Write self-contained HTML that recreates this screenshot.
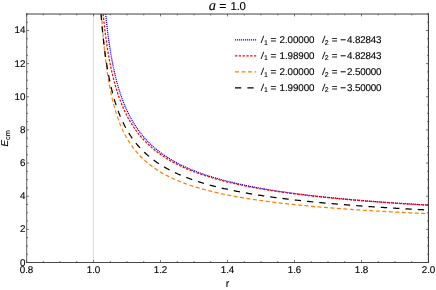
<!DOCTYPE html>
<html><head><meta charset="utf-8"><style>
html,body{margin:0;padding:0;background:#fff;}
svg{display:block;will-change:transform}
text{font-family:"Liberation Sans",sans-serif;font-size:9.8px;fill:#000;stroke:#000;stroke-width:0.12px;text-rendering:geometricPrecision}
</style></head><body>
<svg width="436" height="290" viewBox="0 0 436 290">
<rect width="436" height="290" fill="#fff"/>
<defs><clipPath id="c"><rect x="26.52" y="13.90" width="401.98" height="248.60"/></clipPath></defs>
<line x1="93.52" y1="13.90" x2="93.52" y2="262.50" stroke="#d4d4d4" stroke-width="0.8"/>
<g clip-path="url(#c)">
<path d="M105.64 13.90 L105.71 14.62 L105.79 15.33 L105.86 16.03 L105.93 16.73 L106.00 17.42 L106.07 18.11 L106.14 18.79 L106.21 19.46 L106.29 20.13 L106.36 20.79 L106.43 21.45 L106.50 22.10 L106.57 22.75 L106.64 23.39 L106.71 24.02 L106.79 24.66 L106.86 25.28 L106.93 25.90 L107.00 26.52 L107.07 27.13 L107.14 27.73 L107.22 28.33 L107.29 28.93 L107.36 29.52 L107.43 30.11 L107.50 30.69 L107.57 31.27 L107.64 31.84 L107.72 32.41 L107.79 32.98 L107.86 33.54 L107.93 34.10 L108.00 34.65 L108.07 35.20 L108.14 35.74 L108.22 36.28 L108.29 36.82 L108.36 37.35 L108.43 37.88 L108.50 38.40 L108.57 38.92 L108.64 39.44 L108.72 39.95 L108.79 40.46 L108.86 40.97 L108.93 41.47 L109.00 41.97 L109.07 42.47 L109.15 42.96 L109.22 43.45 L109.29 43.93 L109.36 44.42 L109.43 44.90 L109.50 45.37 L109.57 45.84 L109.65 46.31 L109.72 46.78 L109.79 47.24 L109.86 47.70 L109.93 48.16 L110.00 48.61 L110.07 49.06 L110.15 49.51 L110.22 49.96 L110.29 50.40 L110.36 50.84 L110.43 51.28 L110.50 51.71 L110.57 52.14 L110.65 52.57 L110.72 53.00 L110.79 53.42 L110.86 53.84 L110.93 54.26 L111.00 54.67 L111.08 55.08 L111.15 55.49 L111.22 55.90 L111.29 56.31 L111.36 56.71 L111.43 57.11 L111.50 57.51 L111.58 57.90 L111.65 58.30 L111.72 58.69 L111.79 59.08 L111.86 59.46 L111.93 59.85 L112.00 60.23 L112.08 60.61 L112.15 60.98 L112.22 61.36 L112.29 61.73 L112.36 62.10 L112.43 62.47 L112.50 62.84 L112.58 63.20 L112.65 63.57 L112.72 63.93 L112.79 64.28 L112.86 64.64 L112.93 64.99 L113.01 65.35 L113.08 65.70 L113.15 66.05 L113.22 66.39 L113.29 66.74 L113.36 67.08 L113.43 67.42 L113.51 67.76 L113.58 68.10 L113.65 68.43 L113.72 68.77 L113.79 69.10 L113.86 69.43 L113.93 69.76 L114.01 70.08 L114.08 70.41 L114.15 70.73 L114.22 71.05 L114.29 71.37 L114.36 71.69 L114.43 72.01 L114.51 72.32 L114.58 72.63 L114.65 72.95 L114.72 73.26 L114.79 73.56 L114.86 73.87 L114.94 74.18 L115.01 74.48 L115.08 74.78 L115.15 75.08 L115.22 75.38 L115.29 75.68 L115.36 75.98 L115.44 76.27 L115.51 76.56 L115.58 76.86 L115.65 77.15 L115.72 77.43 L115.79 77.72 L115.86 78.01 L115.94 78.29 L116.01 78.58 L116.08 78.86 L116.15 79.14 L116.22 79.42 L116.29 79.70 L116.36 79.97 L116.44 80.25 L116.51 80.52 L116.58 80.80 L116.65 81.07 L116.72 81.34 L116.79 81.61 L116.86 81.88 L116.94 82.14 L117.01 82.41 L117.08 82.67 L117.15 82.93 L117.22 83.20 L117.29 83.46 L117.37 83.72 L117.44 83.97 L117.51 84.23 L117.58 84.49 L117.65 84.74 L117.72 84.99 L117.79 85.25 L117.87 85.50 L117.94 85.75 L118.01 86.00 L118.08 86.25 L118.15 86.49 L118.22 86.74 L118.29 86.98 L118.37 87.23 L118.44 87.47 L118.51 87.71 L118.58 87.95 L118.65 88.19 L118.72 88.43 L118.79 88.67 L118.87 88.90 L118.94 89.14 L119.01 89.37 L119.08 89.61 L119.15 89.84 L119.22 90.07 L119.30 90.30 L119.37 90.53 L119.44 90.76 L119.51 90.98 L119.58 91.21 L119.65 91.44 L119.72 91.66 L119.80 91.89 L119.87 92.11 L119.94 92.33 L120.01 92.55 L120.08 92.77 L120.15 92.99 L120.22 93.21 L120.30 93.43 L120.37 93.64 L120.44 93.86 L120.51 94.07 L120.58 94.29 L120.65 94.50 L120.72 94.71 L120.80 94.92 L120.87 95.13 L120.94 95.34 L121.01 95.55 L121.08 95.76 L121.15 95.97 L121.23 96.17 L121.30 96.38 L121.37 96.58 L121.44 96.79 L121.51 96.99 L121.58 97.19 L121.65 97.40 L121.73 97.60 L121.80 97.80 L121.87 98.00 L121.94 98.19 L122.01 98.39 L122.08 98.59 L122.15 98.79 L122.23 98.98 L122.30 99.18 L122.37 99.37 L122.44 99.56 L122.51 99.76 L122.58 99.95 L122.65 100.14 L122.73 100.33 L122.80 100.52 L122.87 100.71 L122.94 100.90 L123.01 101.08 L123.08 101.27 L123.16 101.46 L123.23 101.64 L123.30 101.83 L123.37 102.01 L123.44 102.20 L123.51 102.38 L123.58 102.56 L123.66 102.74 L123.73 102.92 L123.80 103.10 L123.87 103.28 L123.94 103.46 L124.01 103.64 L124.08 103.82 L124.16 104.00 L124.23 104.17 L124.30 104.35 L124.37 104.52 L124.44 104.70 L124.51 104.87 L124.58 105.05 L124.66 105.22 L124.73 105.39 L124.80 105.56 L124.87 105.73 L124.94 105.90 L125.01 106.07 L125.09 106.24 L125.16 106.41 L125.23 106.58 L125.30 106.75 L125.37 106.91 L125.44 107.08 L125.51 107.25 L125.59 107.41 L125.66 107.58 L125.73 107.74 L125.80 107.90 L125.87 108.07 L125.94 108.23 L126.01 108.39 L126.09 108.55 L126.16 108.71 L126.23 108.87 L126.30 109.03 L126.37 109.19 L126.44 109.35 L126.51 109.51 L126.59 109.67 L126.66 109.82 L126.73 109.98 L126.80 110.14 L126.87 110.29 L126.94 110.45 L127.02 110.60 L128.02 112.73 L129.03 114.77 L130.04 116.72 L131.05 118.59 L132.06 120.38 L133.06 122.10 L134.07 123.76 L135.08 125.36 L136.09 126.89 L137.10 128.38 L138.11 129.81 L139.11 131.19 L140.12 132.53 L141.13 133.82 L142.14 135.07 L143.15 136.29 L144.16 137.46 L145.16 138.60 L146.17 139.71 L147.18 140.78 L148.19 141.83 L149.20 142.84 L150.21 143.83 L151.21 144.79 L152.22 145.72 L153.23 146.63 L154.24 147.52 L155.25 148.38 L156.26 149.22 L157.26 150.05 L158.27 150.85 L159.28 151.63 L160.29 152.40 L161.30 153.14 L162.31 153.87 L163.31 154.59 L164.32 155.29 L165.33 155.97 L166.34 156.64 L167.35 157.29 L168.36 157.93 L169.36 158.56 L170.37 159.17 L171.38 159.78 L172.39 160.37 L173.40 160.94 L174.41 161.51 L175.41 162.07 L176.42 162.61 L177.43 163.15 L178.44 163.67 L179.45 164.19 L180.46 164.70 L181.46 165.19 L182.47 165.68 L183.48 166.16 L184.49 166.63 L185.50 167.10 L186.51 167.55 L187.51 168.00 L188.52 168.44 L189.53 168.88 L190.54 169.30 L191.55 169.72 L192.56 170.14 L193.56 170.54 L194.57 170.94 L195.58 171.34 L196.59 171.72 L197.60 172.11 L198.61 172.48 L199.61 172.85 L200.62 173.22 L201.63 173.58 L202.64 173.93 L203.65 174.28 L204.65 174.63 L205.66 174.97 L206.67 175.30 L207.68 175.63 L208.69 175.96 L209.70 176.28 L210.70 176.59 L211.71 176.91 L212.72 177.21 L213.73 177.52 L214.74 177.82 L215.75 178.11 L216.75 178.41 L217.76 178.70 L218.77 178.98 L219.78 179.26 L220.79 179.54 L221.80 179.81 L222.80 180.09 L223.81 180.35 L224.82 180.62 L225.83 180.88 L226.84 181.14 L227.85 181.39 L228.85 181.64 L229.86 181.89 L230.87 182.14 L231.88 182.38 L232.89 182.62 L233.90 182.86 L234.90 183.10 L235.91 183.33 L236.92 183.56 L237.93 183.79 L238.94 184.01 L239.95 184.23 L240.95 184.45 L241.96 184.67 L242.97 184.89 L243.98 185.10 L244.99 185.31 L246.00 185.52 L247.00 185.72 L248.01 185.93 L249.02 186.13 L250.03 186.33 L251.04 186.53 L252.05 186.72 L253.05 186.92 L254.06 187.11 L255.07 187.30 L256.08 187.49 L257.09 187.67 L258.10 187.86 L259.10 188.04 L260.11 188.22 L261.12 188.40 L262.13 188.58 L263.14 188.75 L264.15 188.93 L265.15 189.10 L266.16 189.27 L267.17 189.44 L268.18 189.61 L269.19 189.78 L270.20 189.94 L271.20 190.10 L272.21 190.26 L273.22 190.42 L274.23 190.58 L275.24 190.74 L276.25 190.90 L277.25 191.05 L278.26 191.20 L279.27 191.36 L280.28 191.51 L281.29 191.66 L282.29 191.80 L283.30 191.95 L284.31 192.10 L285.32 192.24 L286.33 192.38 L287.34 192.52 L288.34 192.67 L289.35 192.80 L290.36 192.94 L291.37 193.08 L292.38 193.22 L293.39 193.35 L294.39 193.48 L295.40 193.62 L296.41 193.75 L297.42 193.88 L298.43 194.01 L299.44 194.14 L300.44 194.27 L301.45 194.39 L302.46 194.52 L303.47 194.64 L304.48 194.77 L305.49 194.89 L306.49 195.01 L307.50 195.13 L308.51 195.25 L309.52 195.37 L310.53 195.49 L311.54 195.60 L312.54 195.72 L313.55 195.84 L314.56 195.95 L315.57 196.06 L316.58 196.18 L317.59 196.29 L318.59 196.40 L319.60 196.51 L320.61 196.62 L321.62 196.73 L322.63 196.84 L323.64 196.95 L324.64 197.05 L325.65 197.16 L326.66 197.26 L327.67 197.37 L328.68 197.47 L329.69 197.57 L330.69 197.68 L331.70 197.78 L332.71 197.88 L333.72 197.98 L334.73 198.08 L335.74 198.18 L336.74 198.27 L337.75 198.37 L338.76 198.47 L339.77 198.56 L340.78 198.66 L341.79 198.75 L342.79 198.85 L343.80 198.94 L344.81 199.03 L345.82 199.13 L346.83 199.22 L347.84 199.31 L348.84 199.40 L349.85 199.49 L350.86 199.58 L351.87 199.67 L352.88 199.76 L353.88 199.84 L354.89 199.93 L355.90 200.02 L356.91 200.10 L357.92 200.19 L358.93 200.27 L359.93 200.36 L360.94 200.44 L361.95 200.53 L362.96 200.61 L363.97 200.69 L364.98 200.77 L365.98 200.85 L366.99 200.93 L368.00 201.01 L369.01 201.09 L370.02 201.17 L371.03 201.25 L372.03 201.33 L373.04 201.41 L374.05 201.49 L375.06 201.56 L376.07 201.64 L377.08 201.72 L378.08 201.79 L379.09 201.87 L380.10 201.94 L381.11 202.02 L382.12 202.09 L383.13 202.16 L384.13 202.24 L385.14 202.31 L386.15 202.38 L387.16 202.45 L388.17 202.53 L389.18 202.60 L390.18 202.67 L391.19 202.74 L392.20 202.81 L393.21 202.88 L394.22 202.95 L395.23 203.02 L396.23 203.08 L397.24 203.15 L398.25 203.22 L399.26 203.29 L400.27 203.35 L401.28 203.42 L402.28 203.49 L403.29 203.55 L404.30 203.62 L405.31 203.68 L406.32 203.75 L407.33 203.81 L408.33 203.88 L409.34 203.94 L410.35 204.00 L411.36 204.07 L412.37 204.13 L413.38 204.19 L414.38 204.25 L415.39 204.31 L416.40 204.38 L417.41 204.44 L418.42 204.50 L419.43 204.56 L420.43 204.62 L421.44 204.68 L422.45 204.74 L423.46 204.80 L424.47 204.86 L425.48 204.91 L426.48 204.97 L427.49 205.03 L428.50 205.09" fill="none" stroke="#0000ff" stroke-width="1.25" stroke-dasharray="1.15 0.85"/>
<path d="M103.14 13.90 L103.22 14.71 L103.30 15.50 L103.38 16.30 L103.46 17.08 L103.54 17.85 L103.62 18.62 L103.70 19.38 L103.78 20.13 L103.86 20.88 L103.94 21.62 L104.02 22.35 L104.10 23.07 L104.18 23.79 L104.26 24.50 L104.34 25.21 L104.42 25.91 L104.50 26.60 L104.58 27.28 L104.66 27.96 L104.74 28.64 L104.82 29.30 L104.90 29.97 L104.97 30.62 L105.05 31.27 L105.13 31.92 L105.21 32.56 L105.29 33.19 L105.37 33.82 L105.45 34.44 L105.53 35.06 L105.61 35.67 L105.69 36.28 L105.77 36.88 L105.85 37.48 L105.93 38.07 L106.01 38.66 L106.09 39.24 L106.17 39.82 L106.25 40.39 L106.33 40.96 L106.41 41.52 L106.49 42.08 L106.57 42.64 L106.65 43.19 L106.73 43.74 L106.81 44.28 L106.89 44.82 L106.97 45.35 L107.05 45.88 L107.13 46.41 L107.21 46.93 L107.29 47.45 L107.37 47.97 L107.45 48.48 L107.53 48.98 L107.61 49.49 L107.69 49.99 L107.77 50.48 L107.85 50.97 L107.93 51.46 L108.01 51.95 L108.09 52.43 L108.17 52.91 L108.25 53.38 L108.33 53.86 L108.41 54.32 L108.49 54.79 L108.57 55.25 L108.65 55.71 L108.73 56.17 L108.81 56.62 L108.89 57.07 L108.97 57.51 L109.05 57.96 L109.13 58.40 L109.21 58.83 L109.29 59.27 L109.37 59.70 L109.45 60.13 L109.53 60.56 L109.61 60.98 L109.69 61.40 L109.77 61.82 L109.85 62.23 L109.93 62.64 L110.01 63.05 L110.09 63.46 L110.17 63.86 L110.25 64.27 L110.33 64.67 L110.41 65.06 L110.48 65.46 L110.56 65.85 L110.64 66.24 L110.72 66.63 L110.80 67.01 L110.88 67.39 L110.96 67.77 L111.04 68.15 L111.12 68.53 L111.20 68.90 L111.28 69.27 L111.36 69.64 L111.44 70.00 L111.52 70.37 L111.60 70.73 L111.68 71.09 L111.76 71.45 L111.84 71.81 L111.92 72.16 L112.00 72.51 L112.08 72.86 L112.16 73.21 L112.24 73.55 L112.32 73.90 L112.40 74.24 L112.48 74.58 L112.56 74.92 L112.64 75.25 L112.72 75.59 L112.80 75.92 L112.88 76.25 L112.96 76.58 L113.04 76.90 L113.12 77.23 L113.20 77.55 L113.28 77.87 L113.36 78.19 L113.44 78.51 L113.52 78.83 L113.60 79.14 L113.68 79.46 L113.76 79.77 L113.84 80.08 L113.92 80.38 L114.00 80.69 L114.08 80.99 L114.16 81.30 L114.24 81.60 L114.32 81.90 L114.40 82.20 L114.48 82.49 L114.56 82.79 L114.64 83.08 L114.72 83.38 L114.80 83.67 L114.88 83.96 L114.96 84.24 L115.04 84.53 L115.12 84.81 L115.20 85.10 L115.28 85.38 L115.36 85.66 L115.44 85.94 L115.52 86.22 L115.60 86.49 L115.68 86.77 L115.76 87.04 L115.84 87.31 L115.92 87.59 L115.99 87.86 L116.07 88.12 L116.15 88.39 L116.23 88.66 L116.31 88.92 L116.39 89.18 L116.47 89.45 L116.55 89.71 L116.63 89.97 L116.71 90.22 L116.79 90.48 L116.87 90.74 L116.95 90.99 L117.03 91.25 L117.11 91.50 L117.19 91.75 L117.27 92.00 L117.35 92.25 L117.43 92.50 L117.51 92.74 L117.59 92.99 L117.67 93.23 L117.75 93.48 L117.83 93.72 L117.91 93.96 L117.99 94.20 L118.07 94.44 L118.15 94.67 L118.23 94.91 L118.31 95.15 L118.39 95.38 L118.47 95.61 L118.55 95.85 L118.63 96.08 L118.71 96.31 L118.79 96.54 L118.87 96.77 L118.95 96.99 L119.03 97.22 L119.11 97.45 L119.19 97.67 L119.27 97.89 L119.35 98.12 L119.43 98.34 L119.51 98.56 L119.59 98.78 L119.67 99.00 L119.75 99.22 L119.83 99.43 L119.91 99.65 L119.99 99.86 L120.07 100.08 L120.15 100.29 L120.23 100.50 L120.31 100.72 L120.39 100.93 L120.47 101.14 L120.55 101.35 L120.63 101.55 L120.71 101.76 L120.79 101.97 L120.87 102.17 L120.95 102.38 L121.03 102.58 L121.11 102.78 L121.19 102.99 L121.27 103.19 L121.35 103.39 L121.43 103.59 L121.50 103.79 L121.58 103.99 L121.66 104.18 L121.74 104.38 L121.82 104.58 L121.90 104.77 L121.98 104.97 L122.06 105.16 L122.14 105.35 L122.22 105.54 L122.30 105.73 L122.38 105.93 L122.46 106.12 L122.54 106.30 L122.62 106.49 L122.70 106.68 L122.78 106.87 L122.86 107.05 L122.94 107.24 L123.02 107.42 L123.10 107.61 L123.18 107.79 L123.26 107.97 L123.34 108.16 L123.42 108.34 L123.50 108.52 L123.58 108.70 L123.66 108.88 L123.74 109.06 L123.82 109.23 L123.90 109.41 L123.98 109.59 L124.06 109.76 L124.14 109.94 L124.22 110.11 L124.30 110.29 L124.38 110.46 L124.46 110.63 L124.54 110.81 L124.62 110.98 L124.70 111.15 L124.78 111.32 L124.86 111.49 L124.94 111.66 L125.02 111.83 L125.10 112.00 L125.18 112.16 L125.26 112.33 L125.34 112.50 L125.42 112.66 L125.50 112.83 L125.58 112.99 L125.66 113.15 L125.74 113.32 L125.82 113.48 L125.90 113.64 L125.98 113.80 L126.06 113.96 L126.14 114.12 L126.22 114.28 L126.30 114.44 L126.38 114.60 L126.46 114.76 L126.54 114.92 L126.62 115.08 L126.70 115.23 L126.78 115.39 L126.86 115.54 L126.94 115.70 L127.02 115.85 L128.02 117.76 L129.03 119.59 L130.04 121.34 L131.05 123.03 L132.06 124.66 L133.06 126.22 L134.07 127.73 L135.08 129.18 L136.09 130.59 L137.10 131.95 L138.11 133.26 L139.11 134.53 L140.12 135.76 L141.13 136.95 L142.14 138.11 L143.15 139.23 L144.16 140.32 L145.16 141.37 L146.17 142.40 L147.18 143.40 L148.19 144.37 L149.20 145.32 L150.21 146.24 L151.21 147.14 L152.22 148.01 L153.23 148.86 L154.24 149.69 L155.25 150.50 L156.26 151.30 L157.26 152.07 L158.27 152.82 L159.28 153.56 L160.29 154.28 L161.30 154.99 L162.31 155.68 L163.31 156.35 L164.32 157.01 L165.33 157.66 L166.34 158.29 L167.35 158.91 L168.36 159.52 L169.36 160.11 L170.37 160.70 L171.38 161.27 L172.39 161.83 L173.40 162.38 L174.41 162.92 L175.41 163.45 L176.42 163.97 L177.43 164.48 L178.44 164.98 L179.45 165.48 L180.46 165.96 L181.46 166.43 L182.47 166.90 L183.48 167.36 L184.49 167.81 L185.50 168.26 L186.51 168.69 L187.51 169.12 L188.52 169.55 L189.53 169.96 L190.54 170.37 L191.55 170.77 L192.56 171.17 L193.56 171.56 L194.57 171.94 L195.58 172.32 L196.59 172.70 L197.60 173.06 L198.61 173.43 L199.61 173.78 L200.62 174.13 L201.63 174.48 L202.64 174.82 L203.65 175.16 L204.65 175.49 L205.66 175.82 L206.67 176.14 L207.68 176.46 L208.69 176.77 L209.70 177.08 L210.70 177.39 L211.71 177.69 L212.72 177.99 L213.73 178.28 L214.74 178.57 L215.75 178.86 L216.75 179.14 L217.76 179.42 L218.77 179.70 L219.78 179.97 L220.79 180.24 L221.80 180.51 L222.80 180.77 L223.81 181.03 L224.82 181.29 L225.83 181.54 L226.84 181.79 L227.85 182.04 L228.85 182.28 L229.86 182.52 L230.87 182.76 L231.88 183.00 L232.89 183.23 L233.90 183.46 L234.90 183.69 L235.91 183.92 L236.92 184.14 L237.93 184.36 L238.94 184.58 L239.95 184.80 L240.95 185.01 L241.96 185.22 L242.97 185.43 L243.98 185.64 L244.99 185.84 L246.00 186.05 L247.00 186.25 L248.01 186.45 L249.02 186.64 L250.03 186.84 L251.04 187.03 L252.05 187.22 L253.05 187.41 L254.06 187.60 L255.07 187.78 L256.08 187.97 L257.09 188.15 L258.10 188.33 L259.10 188.50 L260.11 188.68 L261.12 188.86 L262.13 189.03 L263.14 189.20 L264.15 189.37 L265.15 189.54 L266.16 189.71 L267.17 189.87 L268.18 190.03 L269.19 190.20 L270.20 190.36 L271.20 190.52 L272.21 190.67 L273.22 190.83 L274.23 190.99 L275.24 191.14 L276.25 191.29 L277.25 191.44 L278.26 191.59 L279.27 191.74 L280.28 191.89 L281.29 192.04 L282.29 192.18 L283.30 192.32 L284.31 192.47 L285.32 192.61 L286.33 192.75 L287.34 192.89 L288.34 193.02 L289.35 193.16 L290.36 193.29 L291.37 193.43 L292.38 193.56 L293.39 193.69 L294.39 193.83 L295.40 193.96 L296.41 194.08 L297.42 194.21 L298.43 194.34 L299.44 194.47 L300.44 194.59 L301.45 194.71 L302.46 194.84 L303.47 194.96 L304.48 195.08 L305.49 195.20 L306.49 195.32 L307.50 195.44 L308.51 195.56 L309.52 195.67 L310.53 195.79 L311.54 195.90 L312.54 196.02 L313.55 196.13 L314.56 196.24 L315.57 196.35 L316.58 196.47 L317.59 196.58 L318.59 196.68 L319.60 196.79 L320.61 196.90 L321.62 197.01 L322.63 197.11 L323.64 197.22 L324.64 197.32 L325.65 197.43 L326.66 197.53 L327.67 197.63 L328.68 197.73 L329.69 197.84 L330.69 197.94 L331.70 198.04 L332.71 198.13 L333.72 198.23 L334.73 198.33 L335.74 198.43 L336.74 198.52 L337.75 198.62 L338.76 198.71 L339.77 198.81 L340.78 198.90 L341.79 199.00 L342.79 199.09 L343.80 199.18 L344.81 199.27 L345.82 199.36 L346.83 199.45 L347.84 199.54 L348.84 199.63 L349.85 199.72 L350.86 199.81 L351.87 199.89 L352.88 199.98 L353.88 200.07 L354.89 200.15 L355.90 200.24 L356.91 200.32 L357.92 200.41 L358.93 200.49 L359.93 200.57 L360.94 200.66 L361.95 200.74 L362.96 200.82 L363.97 200.90 L364.98 200.98 L365.98 201.06 L366.99 201.14 L368.00 201.22 L369.01 201.30 L370.02 201.38 L371.03 201.45 L372.03 201.53 L373.04 201.61 L374.05 201.69 L375.06 201.76 L376.07 201.84 L377.08 201.91 L378.08 201.99 L379.09 202.06 L380.10 202.13 L381.11 202.21 L382.12 202.28 L383.13 202.35 L384.13 202.42 L385.14 202.50 L386.15 202.57 L387.16 202.64 L388.17 202.71 L389.18 202.78 L390.18 202.85 L391.19 202.92 L392.20 202.99 L393.21 203.06 L394.22 203.12 L395.23 203.19 L396.23 203.26 L397.24 203.33 L398.25 203.39 L399.26 203.46 L400.27 203.52 L401.28 203.59 L402.28 203.66 L403.29 203.72 L404.30 203.78 L405.31 203.85 L406.32 203.91 L407.33 203.98 L408.33 204.04 L409.34 204.10 L410.35 204.16 L411.36 204.23 L412.37 204.29 L413.38 204.35 L414.38 204.41 L415.39 204.47 L416.40 204.53 L417.41 204.59 L418.42 204.65 L419.43 204.71 L420.43 204.77 L421.44 204.83 L422.45 204.89 L423.46 204.95 L424.47 205.01 L425.48 205.06 L426.48 205.12 L427.49 205.18 L428.50 205.24" fill="none" stroke="#ff0000" stroke-width="1.25" stroke-dasharray="2.3 1.5"/>
<path d="M101.49 13.90 L101.57 15.20 L101.66 16.48 L101.74 17.74 L101.83 18.98 L101.91 20.20 L102.00 21.40 L102.09 22.59 L102.17 23.76 L102.26 24.91 L102.34 26.04 L102.43 27.16 L102.51 28.26 L102.60 29.34 L102.68 30.41 L102.77 31.46 L102.85 32.50 L102.94 33.53 L103.02 34.54 L103.11 35.54 L103.19 36.52 L103.28 37.50 L103.37 38.46 L103.45 39.40 L103.54 40.34 L103.62 41.26 L103.71 42.17 L103.79 43.07 L103.88 43.96 L103.96 44.83 L104.05 45.70 L104.13 46.56 L104.22 47.40 L104.30 48.24 L104.39 49.06 L104.48 49.88 L104.56 50.69 L104.65 51.48 L104.73 52.27 L104.82 53.05 L104.90 53.82 L104.99 54.58 L105.07 55.33 L105.16 56.08 L105.24 56.81 L105.33 57.54 L105.41 58.26 L105.50 58.97 L105.59 59.68 L105.67 60.38 L105.76 61.06 L105.84 61.75 L105.93 62.42 L106.01 63.09 L106.10 63.75 L106.18 64.41 L106.27 65.06 L106.35 65.70 L106.44 66.33 L106.52 66.96 L106.61 67.59 L106.70 68.20 L106.78 68.81 L106.87 69.42 L106.95 70.02 L107.04 70.61 L107.12 71.20 L107.21 71.78 L107.29 72.36 L107.38 72.93 L107.46 73.49 L107.55 74.05 L107.63 74.61 L107.72 75.16 L107.81 75.70 L107.89 76.25 L107.98 76.78 L108.06 77.31 L108.15 77.84 L108.23 78.36 L108.32 78.88 L108.40 79.39 L108.49 79.90 L108.57 80.40 L108.66 80.90 L108.74 81.40 L108.83 81.89 L108.92 82.37 L109.00 82.86 L109.09 83.34 L109.17 83.81 L109.26 84.28 L109.34 84.75 L109.43 85.21 L109.51 85.67 L109.60 86.13 L109.68 86.58 L109.77 87.03 L109.85 87.47 L109.94 87.91 L110.03 88.35 L110.11 88.79 L110.20 89.22 L110.28 89.65 L110.37 90.07 L110.45 90.49 L110.54 90.91 L110.62 91.33 L110.71 91.74 L110.79 92.15 L110.88 92.55 L110.96 92.95 L111.05 93.35 L111.13 93.75 L111.22 94.14 L111.31 94.54 L111.39 94.92 L111.48 95.31 L111.56 95.69 L111.65 96.07 L111.73 96.45 L111.82 96.82 L111.90 97.20 L111.99 97.56 L112.07 97.93 L112.16 98.30 L112.24 98.66 L112.33 99.02 L112.42 99.37 L112.50 99.73 L112.59 100.08 L112.67 100.43 L112.76 100.78 L112.84 101.12 L112.93 101.46 L113.01 101.80 L113.10 102.14 L113.18 102.48 L113.27 102.81 L113.35 103.14 L113.44 103.47 L113.53 103.80 L113.61 104.12 L113.70 104.44 L113.78 104.77 L113.87 105.08 L113.95 105.40 L114.04 105.72 L114.12 106.03 L114.21 106.34 L114.29 106.65 L114.38 106.95 L114.46 107.26 L114.55 107.56 L114.64 107.86 L114.72 108.16 L114.81 108.46 L114.89 108.76 L114.98 109.05 L115.06 109.34 L115.15 109.63 L115.23 109.92 L115.32 110.21 L115.40 110.49 L115.49 110.78 L115.57 111.06 L115.66 111.34 L115.75 111.62 L115.83 111.89 L115.92 112.17 L116.00 112.44 L116.09 112.72 L116.17 112.99 L116.26 113.26 L116.34 113.52 L116.43 113.79 L116.51 114.05 L116.60 114.32 L116.68 114.58 L116.77 114.84 L116.86 115.10 L116.94 115.35 L117.03 115.61 L117.11 115.86 L117.20 116.12 L117.28 116.37 L117.37 116.62 L117.45 116.87 L117.54 117.12 L117.62 117.36 L117.71 117.61 L117.79 117.85 L117.88 118.09 L117.97 118.33 L118.05 118.57 L118.14 118.81 L118.22 119.05 L118.31 119.28 L118.39 119.52 L118.48 119.75 L118.56 119.98 L118.65 120.22 L118.73 120.45 L118.82 120.67 L118.90 120.90 L118.99 121.13 L119.07 121.35 L119.16 121.58 L119.25 121.80 L119.33 122.02 L119.42 122.24 L119.50 122.46 L119.59 122.68 L119.67 122.90 L119.76 123.11 L119.84 123.33 L119.93 123.54 L120.01 123.76 L120.10 123.97 L120.18 124.18 L120.27 124.39 L120.36 124.60 L120.44 124.81 L120.53 125.01 L120.61 125.22 L120.70 125.42 L120.78 125.63 L120.87 125.83 L120.95 126.03 L121.04 126.23 L121.12 126.44 L121.21 126.63 L121.29 126.83 L121.38 127.03 L121.47 127.23 L121.55 127.42 L121.64 127.62 L121.72 127.81 L121.81 128.00 L121.89 128.19 L121.98 128.39 L122.06 128.58 L122.15 128.77 L122.23 128.95 L122.32 129.14 L122.40 129.33 L122.49 129.51 L122.58 129.70 L122.66 129.88 L122.75 130.07 L122.83 130.25 L122.92 130.43 L123.00 130.61 L123.09 130.79 L123.17 130.97 L123.26 131.15 L123.34 131.33 L123.43 131.51 L123.51 131.68 L123.60 131.86 L123.69 132.03 L123.77 132.21 L123.86 132.38 L123.94 132.55 L124.03 132.72 L124.11 132.90 L124.20 133.07 L124.28 133.23 L124.37 133.40 L124.45 133.57 L124.54 133.74 L124.62 133.91 L124.71 134.07 L124.80 134.24 L124.88 134.40 L124.97 134.57 L125.05 134.73 L125.14 134.89 L125.22 135.05 L125.31 135.22 L125.39 135.38 L125.48 135.54 L125.56 135.70 L125.65 135.85 L125.73 136.01 L125.82 136.17 L125.91 136.33 L125.99 136.48 L126.08 136.64 L126.16 136.79 L126.25 136.95 L126.33 137.10 L126.42 137.25 L126.50 137.41 L126.59 137.56 L126.67 137.71 L126.76 137.86 L126.84 138.01 L126.93 138.16 L127.02 138.31 L128.02 140.02 L129.03 141.66 L130.04 143.24 L131.05 144.74 L132.06 146.19 L133.06 147.57 L134.07 148.91 L135.08 150.19 L136.09 151.43 L137.10 152.62 L138.11 153.78 L139.11 154.89 L140.12 155.96 L141.13 157.00 L142.14 158.01 L143.15 158.98 L144.16 159.93 L145.16 160.84 L146.17 161.73 L147.18 162.59 L148.19 163.43 L149.20 164.25 L150.21 165.04 L151.21 165.81 L152.22 166.56 L153.23 167.29 L154.24 168.00 L155.25 168.69 L156.26 169.37 L157.26 170.03 L158.27 170.67 L159.28 171.30 L160.29 171.91 L161.30 172.51 L162.31 173.10 L163.31 173.67 L164.32 174.23 L165.33 174.77 L166.34 175.31 L167.35 175.83 L168.36 176.34 L169.36 176.85 L170.37 177.34 L171.38 177.82 L172.39 178.29 L173.40 178.75 L174.41 179.21 L175.41 179.65 L176.42 180.09 L177.43 180.52 L178.44 180.93 L179.45 181.35 L180.46 181.75 L181.46 182.15 L182.47 182.54 L183.48 182.92 L184.49 183.30 L185.50 183.67 L186.51 184.03 L187.51 184.39 L188.52 184.74 L189.53 185.09 L190.54 185.43 L191.55 185.76 L192.56 186.09 L193.56 186.42 L194.57 186.73 L195.58 187.05 L196.59 187.36 L197.60 187.66 L198.61 187.96 L199.61 188.26 L200.62 188.55 L201.63 188.83 L202.64 189.12 L203.65 189.39 L204.65 189.67 L205.66 189.94 L206.67 190.20 L207.68 190.47 L208.69 190.73 L209.70 190.98 L210.70 191.23 L211.71 191.48 L212.72 191.73 L213.73 191.97 L214.74 192.21 L215.75 192.44 L216.75 192.67 L217.76 192.90 L218.77 193.13 L219.78 193.35 L220.79 193.57 L221.80 193.79 L222.80 194.01 L223.81 194.22 L224.82 194.43 L225.83 194.64 L226.84 194.84 L227.85 195.04 L228.85 195.24 L229.86 195.44 L230.87 195.64 L231.88 195.83 L232.89 196.02 L233.90 196.21 L234.90 196.39 L235.91 196.58 L236.92 196.76 L237.93 196.94 L238.94 197.12 L239.95 197.30 L240.95 197.47 L241.96 197.64 L242.97 197.81 L243.98 197.98 L244.99 198.15 L246.00 198.31 L247.00 198.48 L248.01 198.64 L249.02 198.80 L250.03 198.96 L251.04 199.11 L252.05 199.27 L253.05 199.42 L254.06 199.57 L255.07 199.72 L256.08 199.87 L257.09 200.02 L258.10 200.16 L259.10 200.31 L260.11 200.45 L261.12 200.59 L262.13 200.73 L263.14 200.87 L264.15 201.01 L265.15 201.15 L266.16 201.28 L267.17 201.41 L268.18 201.55 L269.19 201.68 L270.20 201.81 L271.20 201.94 L272.21 202.06 L273.22 202.19 L274.23 202.31 L275.24 202.44 L276.25 202.56 L277.25 202.68 L278.26 202.80 L279.27 202.92 L280.28 203.04 L281.29 203.16 L282.29 203.28 L283.30 203.39 L284.31 203.51 L285.32 203.62 L286.33 203.73 L287.34 203.85 L288.34 203.96 L289.35 204.07 L290.36 204.17 L291.37 204.28 L292.38 204.39 L293.39 204.50 L294.39 204.60 L295.40 204.71 L296.41 204.81 L297.42 204.91 L298.43 205.01 L299.44 205.11 L300.44 205.22 L301.45 205.31 L302.46 205.41 L303.47 205.51 L304.48 205.61 L305.49 205.71 L306.49 205.80 L307.50 205.90 L308.51 205.99 L309.52 206.08 L310.53 206.18 L311.54 206.27 L312.54 206.36 L313.55 206.45 L314.56 206.54 L315.57 206.63 L316.58 206.72 L317.59 206.81 L318.59 206.89 L319.60 206.98 L320.61 207.07 L321.62 207.15 L322.63 207.24 L323.64 207.32 L324.64 207.40 L325.65 207.49 L326.66 207.57 L327.67 207.65 L328.68 207.73 L329.69 207.81 L330.69 207.89 L331.70 207.97 L332.71 208.05 L333.72 208.13 L334.73 208.21 L335.74 208.29 L336.74 208.36 L337.75 208.44 L338.76 208.51 L339.77 208.59 L340.78 208.66 L341.79 208.74 L342.79 208.81 L343.80 208.89 L344.81 208.96 L345.82 209.03 L346.83 209.10 L347.84 209.17 L348.84 209.24 L349.85 209.32 L350.86 209.39 L351.87 209.45 L352.88 209.52 L353.88 209.59 L354.89 209.66 L355.90 209.73 L356.91 209.80 L357.92 209.86 L358.93 209.93 L359.93 209.99 L360.94 210.06 L361.95 210.13 L362.96 210.19 L363.97 210.25 L364.98 210.32 L365.98 210.38 L366.99 210.45 L368.00 210.51 L369.01 210.57 L370.02 210.63 L371.03 210.69 L372.03 210.76 L373.04 210.82 L374.05 210.88 L375.06 210.94 L376.07 211.00 L377.08 211.06 L378.08 211.12 L379.09 211.17 L380.10 211.23 L381.11 211.29 L382.12 211.35 L383.13 211.41 L384.13 211.46 L385.14 211.52 L386.15 211.58 L387.16 211.63 L388.17 211.69 L389.18 211.74 L390.18 211.80 L391.19 211.85 L392.20 211.91 L393.21 211.96 L394.22 212.02 L395.23 212.07 L396.23 212.12 L397.24 212.18 L398.25 212.23 L399.26 212.28 L400.27 212.33 L401.28 212.39 L402.28 212.44 L403.29 212.49 L404.30 212.54 L405.31 212.59 L406.32 212.64 L407.33 212.69 L408.33 212.74 L409.34 212.79 L410.35 212.84 L411.36 212.89 L412.37 212.94 L413.38 212.99 L414.38 213.03 L415.39 213.08 L416.40 213.13 L417.41 213.18 L418.42 213.23 L419.43 213.27 L420.43 213.32 L421.44 213.37 L422.45 213.41 L423.46 213.46 L424.47 213.50 L425.48 213.55 L426.48 213.59 L427.49 213.64 L428.50 213.68" fill="none" stroke="#ff8000" stroke-width="1.25" stroke-dasharray="4 2.5"/>
<path d="M101.00 13.90 L101.09 14.99 L101.17 16.08 L101.26 17.14 L101.35 18.19 L101.44 19.23 L101.52 20.25 L101.61 21.26 L101.70 22.26 L101.78 23.25 L101.87 24.22 L101.96 25.18 L102.04 26.13 L102.13 27.07 L102.22 27.99 L102.31 28.91 L102.39 29.81 L102.48 30.70 L102.57 31.58 L102.65 32.46 L102.74 33.32 L102.83 34.17 L102.91 35.01 L103.00 35.84 L103.09 36.66 L103.18 37.48 L103.26 38.28 L103.35 39.08 L103.44 39.87 L103.52 40.64 L103.61 41.41 L103.70 42.18 L103.78 42.93 L103.87 43.68 L103.96 44.41 L104.05 45.14 L104.13 45.87 L104.22 46.58 L104.31 47.29 L104.39 47.99 L104.48 48.68 L104.57 49.37 L104.65 50.05 L104.74 50.72 L104.83 51.39 L104.92 52.05 L105.00 52.70 L105.09 53.35 L105.18 53.99 L105.26 54.63 L105.35 55.26 L105.44 55.88 L105.52 56.50 L105.61 57.11 L105.70 57.72 L105.79 58.32 L105.87 58.91 L105.96 59.50 L106.05 60.09 L106.13 60.67 L106.22 61.24 L106.31 61.81 L106.39 62.37 L106.48 62.93 L106.57 63.49 L106.66 64.04 L106.74 64.58 L106.83 65.12 L106.92 65.66 L107.00 66.19 L107.09 66.71 L107.18 67.24 L107.26 67.75 L107.35 68.27 L107.44 68.78 L107.53 69.28 L107.61 69.78 L107.70 70.28 L107.79 70.77 L107.87 71.26 L107.96 71.75 L108.05 72.23 L108.13 72.71 L108.22 73.18 L108.31 73.65 L108.40 74.12 L108.48 74.58 L108.57 75.04 L108.66 75.50 L108.74 75.95 L108.83 76.40 L108.92 76.85 L109.00 77.29 L109.09 77.73 L109.18 78.16 L109.27 78.60 L109.35 79.03 L109.44 79.45 L109.53 79.88 L109.61 80.30 L109.70 80.71 L109.79 81.13 L109.87 81.54 L109.96 81.95 L110.05 82.35 L110.14 82.76 L110.22 83.16 L110.31 83.55 L110.40 83.95 L110.48 84.34 L110.57 84.73 L110.66 85.11 L110.74 85.50 L110.83 85.88 L110.92 86.26 L111.01 86.63 L111.09 87.01 L111.18 87.38 L111.27 87.75 L111.35 88.11 L111.44 88.48 L111.53 88.84 L111.61 89.20 L111.70 89.55 L111.79 89.91 L111.88 90.26 L111.96 90.61 L112.05 90.96 L112.14 91.30 L112.22 91.64 L112.31 91.99 L112.40 92.32 L112.48 92.66 L112.57 93.00 L112.66 93.33 L112.75 93.66 L112.83 93.99 L112.92 94.31 L113.01 94.64 L113.09 94.96 L113.18 95.28 L113.27 95.60 L113.35 95.92 L113.44 96.23 L113.53 96.55 L113.62 96.86 L113.70 97.17 L113.79 97.47 L113.88 97.78 L113.96 98.08 L114.05 98.38 L114.14 98.69 L114.23 98.98 L114.31 99.28 L114.40 99.58 L114.49 99.87 L114.57 100.16 L114.66 100.45 L114.75 100.74 L114.83 101.03 L114.92 101.31 L115.01 101.60 L115.10 101.88 L115.18 102.16 L115.27 102.44 L115.36 102.72 L115.44 102.99 L115.53 103.27 L115.62 103.54 L115.70 103.81 L115.79 104.08 L115.88 104.35 L115.97 104.62 L116.05 104.88 L116.14 105.15 L116.23 105.41 L116.31 105.67 L116.40 105.93 L116.49 106.19 L116.57 106.45 L116.66 106.70 L116.75 106.96 L116.84 107.21 L116.92 107.46 L117.01 107.72 L117.10 107.96 L117.18 108.21 L117.27 108.46 L117.36 108.71 L117.44 108.95 L117.53 109.19 L117.62 109.44 L117.71 109.68 L117.79 109.92 L117.88 110.15 L117.97 110.39 L118.05 110.63 L118.14 110.86 L118.23 111.10 L118.31 111.33 L118.40 111.56 L118.49 111.79 L118.58 112.02 L118.66 112.25 L118.75 112.48 L118.84 112.70 L118.92 112.93 L119.01 113.15 L119.10 113.37 L119.18 113.59 L119.27 113.82 L119.36 114.03 L119.45 114.25 L119.53 114.47 L119.62 114.69 L119.71 114.90 L119.79 115.12 L119.88 115.33 L119.97 115.54 L120.05 115.75 L120.14 115.97 L120.23 116.17 L120.32 116.38 L120.40 116.59 L120.49 116.80 L120.58 117.00 L120.66 117.21 L120.75 117.41 L120.84 117.62 L120.92 117.82 L121.01 118.02 L121.10 118.22 L121.19 118.42 L121.27 118.62 L121.36 118.82 L121.45 119.01 L121.53 119.21 L121.62 119.40 L121.71 119.60 L121.79 119.79 L121.88 119.98 L121.97 120.17 L122.06 120.37 L122.14 120.56 L122.23 120.75 L122.32 120.93 L122.40 121.12 L122.49 121.31 L122.58 121.49 L122.66 121.68 L122.75 121.86 L122.84 122.05 L122.93 122.23 L123.01 122.41 L123.10 122.59 L123.19 122.77 L123.27 122.95 L123.36 123.13 L123.45 123.31 L123.53 123.49 L123.62 123.67 L123.71 123.84 L123.80 124.02 L123.88 124.19 L123.97 124.37 L124.06 124.54 L124.14 124.71 L124.23 124.89 L124.32 125.06 L124.40 125.23 L124.49 125.40 L124.58 125.57 L124.67 125.74 L124.75 125.90 L124.84 126.07 L124.93 126.24 L125.01 126.40 L125.10 126.57 L125.19 126.73 L125.27 126.90 L125.36 127.06 L125.45 127.22 L125.54 127.39 L125.62 127.55 L125.71 127.71 L125.80 127.87 L125.88 128.03 L125.97 128.19 L126.06 128.35 L126.14 128.50 L126.23 128.66 L126.32 128.82 L126.41 128.97 L126.49 129.13 L126.58 129.28 L126.67 129.44 L126.75 129.59 L126.84 129.74 L126.93 129.90 L127.02 130.05 L128.02 131.77 L129.03 133.42 L130.04 135.00 L131.05 136.53 L132.06 137.99 L133.06 139.40 L134.07 140.76 L135.08 142.07 L136.09 143.33 L137.10 144.56 L138.11 145.74 L139.11 146.88 L140.12 147.99 L141.13 149.06 L142.14 150.10 L143.15 151.11 L144.16 152.09 L145.16 153.04 L146.17 153.96 L147.18 154.86 L148.19 155.73 L149.20 156.58 L150.21 157.41 L151.21 158.21 L152.22 159.00 L153.23 159.76 L154.24 160.51 L155.25 161.24 L156.26 161.95 L157.26 162.64 L158.27 163.32 L159.28 163.98 L160.29 164.62 L161.30 165.26 L162.31 165.87 L163.31 166.48 L164.32 167.07 L165.33 167.65 L166.34 168.22 L167.35 168.77 L168.36 169.31 L169.36 169.85 L170.37 170.37 L171.38 170.88 L172.39 171.38 L173.40 171.88 L174.41 172.36 L175.41 172.83 L176.42 173.30 L177.43 173.76 L178.44 174.20 L179.45 174.64 L180.46 175.08 L181.46 175.50 L182.47 175.92 L183.48 176.33 L184.49 176.73 L185.50 177.13 L186.51 177.52 L187.51 177.91 L188.52 178.28 L189.53 178.65 L190.54 179.02 L191.55 179.38 L192.56 179.73 L193.56 180.08 L194.57 180.43 L195.58 180.76 L196.59 181.10 L197.60 181.42 L198.61 181.75 L199.61 182.07 L200.62 182.38 L201.63 182.69 L202.64 182.99 L203.65 183.29 L204.65 183.59 L205.66 183.88 L206.67 184.17 L207.68 184.45 L208.69 184.74 L209.70 185.01 L210.70 185.28 L211.71 185.55 L212.72 185.82 L213.73 186.08 L214.74 186.34 L215.75 186.60 L216.75 186.85 L217.76 187.10 L218.77 187.34 L219.78 187.59 L220.79 187.83 L221.80 188.06 L222.80 188.30 L223.81 188.53 L224.82 188.76 L225.83 188.98 L226.84 189.20 L227.85 189.43 L228.85 189.64 L229.86 189.86 L230.87 190.07 L231.88 190.28 L232.89 190.49 L233.90 190.70 L234.90 190.90 L235.91 191.10 L236.92 191.30 L237.93 191.50 L238.94 191.69 L239.95 191.88 L240.95 192.07 L241.96 192.26 L242.97 192.45 L243.98 192.63 L244.99 192.81 L246.00 192.99 L247.00 193.17 L248.01 193.35 L249.02 193.53 L250.03 193.70 L251.04 193.87 L252.05 194.04 L253.05 194.21 L254.06 194.37 L255.07 194.54 L256.08 194.70 L257.09 194.86 L258.10 195.02 L259.10 195.18 L260.11 195.34 L261.12 195.49 L262.13 195.65 L263.14 195.80 L264.15 195.95 L265.15 196.10 L266.16 196.25 L267.17 196.40 L268.18 196.54 L269.19 196.69 L270.20 196.83 L271.20 196.97 L272.21 197.11 L273.22 197.25 L274.23 197.39 L275.24 197.52 L276.25 197.66 L277.25 197.79 L278.26 197.93 L279.27 198.06 L280.28 198.19 L281.29 198.32 L282.29 198.45 L283.30 198.57 L284.31 198.70 L285.32 198.83 L286.33 198.95 L287.34 199.07 L288.34 199.20 L289.35 199.32 L290.36 199.44 L291.37 199.56 L292.38 199.68 L293.39 199.79 L294.39 199.91 L295.40 200.02 L296.41 200.14 L297.42 200.25 L298.43 200.37 L299.44 200.48 L300.44 200.59 L301.45 200.70 L302.46 200.81 L303.47 200.92 L304.48 201.02 L305.49 201.13 L306.49 201.24 L307.50 201.34 L308.51 201.45 L309.52 201.55 L310.53 201.65 L311.54 201.75 L312.54 201.85 L313.55 201.95 L314.56 202.05 L315.57 202.15 L316.58 202.25 L317.59 202.35 L318.59 202.45 L319.60 202.54 L320.61 202.64 L321.62 202.73 L322.63 202.83 L323.64 202.92 L324.64 203.01 L325.65 203.11 L326.66 203.20 L327.67 203.29 L328.68 203.38 L329.69 203.47 L330.69 203.56 L331.70 203.65 L332.71 203.73 L333.72 203.82 L334.73 203.91 L335.74 203.99 L336.74 204.08 L337.75 204.16 L338.76 204.25 L339.77 204.33 L340.78 204.41 L341.79 204.50 L342.79 204.58 L343.80 204.66 L344.81 204.74 L345.82 204.82 L346.83 204.90 L347.84 204.98 L348.84 205.06 L349.85 205.14 L350.86 205.22 L351.87 205.29 L352.88 205.37 L353.88 205.45 L354.89 205.52 L355.90 205.60 L356.91 205.67 L357.92 205.75 L358.93 205.82 L359.93 205.90 L360.94 205.97 L361.95 206.04 L362.96 206.11 L363.97 206.19 L364.98 206.26 L365.98 206.33 L366.99 206.40 L368.00 206.47 L369.01 206.54 L370.02 206.61 L371.03 206.68 L372.03 206.75 L373.04 206.81 L374.05 206.88 L375.06 206.95 L376.07 207.02 L377.08 207.08 L378.08 207.15 L379.09 207.21 L380.10 207.28 L381.11 207.34 L382.12 207.41 L383.13 207.47 L384.13 207.54 L385.14 207.60 L386.15 207.66 L387.16 207.73 L388.17 207.79 L389.18 207.85 L390.18 207.91 L391.19 207.97 L392.20 208.04 L393.21 208.10 L394.22 208.16 L395.23 208.22 L396.23 208.28 L397.24 208.34 L398.25 208.40 L399.26 208.45 L400.27 208.51 L401.28 208.57 L402.28 208.63 L403.29 208.69 L404.30 208.74 L405.31 208.80 L406.32 208.86 L407.33 208.91 L408.33 208.97 L409.34 209.02 L410.35 209.08 L411.36 209.14 L412.37 209.19 L413.38 209.24 L414.38 209.30 L415.39 209.35 L416.40 209.41 L417.41 209.46 L418.42 209.51 L419.43 209.57 L420.43 209.62 L421.44 209.67 L422.45 209.72 L423.46 209.78 L424.47 209.83 L425.48 209.88 L426.48 209.93 L427.49 209.98 L428.50 210.03" fill="none" stroke="#000000" stroke-width="1.25" stroke-dasharray="6.3 6.04"/>
</g>
<g stroke="#6e6e6e" stroke-width="1.2" fill="none">
<line x1="26.7" y1="13.5" x2="26.7" y2="262.95" stroke="#606060" stroke-width="1"/>
<line x1="428.45" y1="13.5" x2="428.45" y2="262.95" stroke="#404040" stroke-width="1.1"/>
<line x1="26.2" y1="262.45" x2="429" y2="262.45" stroke="#484848" stroke-width="1.05"/>
<line x1="26.2" y1="14.03" x2="429" y2="14.03" stroke="#404040" stroke-width="1"/>
<g stroke-width="0.7" stroke="#404040">
<line x1="26.52" y1="262.50" x2="26.52" y2="260.00"/>
<line x1="26.52" y1="13.90" x2="26.52" y2="16.40"/>
<line x1="43.27" y1="262.50" x2="43.27" y2="261.00"/>
<line x1="43.27" y1="13.90" x2="43.27" y2="15.40"/>
<line x1="60.02" y1="262.50" x2="60.02" y2="261.00"/>
<line x1="60.02" y1="13.90" x2="60.02" y2="15.40"/>
<line x1="76.77" y1="262.50" x2="76.77" y2="261.00"/>
<line x1="76.77" y1="13.90" x2="76.77" y2="15.40"/>
<line x1="93.52" y1="262.50" x2="93.52" y2="260.00"/>
<line x1="93.52" y1="13.90" x2="93.52" y2="16.40"/>
<line x1="110.27" y1="262.50" x2="110.27" y2="261.00"/>
<line x1="110.27" y1="13.90" x2="110.27" y2="15.40"/>
<line x1="127.02" y1="262.50" x2="127.02" y2="261.00"/>
<line x1="127.02" y1="13.90" x2="127.02" y2="15.40"/>
<line x1="143.76" y1="262.50" x2="143.76" y2="261.00"/>
<line x1="143.76" y1="13.90" x2="143.76" y2="15.40"/>
<line x1="160.51" y1="262.50" x2="160.51" y2="260.00"/>
<line x1="160.51" y1="13.90" x2="160.51" y2="16.40"/>
<line x1="177.26" y1="262.50" x2="177.26" y2="261.00"/>
<line x1="177.26" y1="13.90" x2="177.26" y2="15.40"/>
<line x1="194.01" y1="262.50" x2="194.01" y2="261.00"/>
<line x1="194.01" y1="13.90" x2="194.01" y2="15.40"/>
<line x1="210.76" y1="262.50" x2="210.76" y2="261.00"/>
<line x1="210.76" y1="13.90" x2="210.76" y2="15.40"/>
<line x1="227.51" y1="262.50" x2="227.51" y2="260.00"/>
<line x1="227.51" y1="13.90" x2="227.51" y2="16.40"/>
<line x1="244.26" y1="262.50" x2="244.26" y2="261.00"/>
<line x1="244.26" y1="13.90" x2="244.26" y2="15.40"/>
<line x1="261.01" y1="262.50" x2="261.01" y2="261.00"/>
<line x1="261.01" y1="13.90" x2="261.01" y2="15.40"/>
<line x1="277.76" y1="262.50" x2="277.76" y2="261.00"/>
<line x1="277.76" y1="13.90" x2="277.76" y2="15.40"/>
<line x1="294.51" y1="262.50" x2="294.51" y2="260.00"/>
<line x1="294.51" y1="13.90" x2="294.51" y2="16.40"/>
<line x1="311.26" y1="262.50" x2="311.26" y2="261.00"/>
<line x1="311.26" y1="13.90" x2="311.26" y2="15.40"/>
<line x1="328.01" y1="262.50" x2="328.01" y2="261.00"/>
<line x1="328.01" y1="13.90" x2="328.01" y2="15.40"/>
<line x1="344.75" y1="262.50" x2="344.75" y2="261.00"/>
<line x1="344.75" y1="13.90" x2="344.75" y2="15.40"/>
<line x1="361.50" y1="262.50" x2="361.50" y2="260.00"/>
<line x1="361.50" y1="13.90" x2="361.50" y2="16.40"/>
<line x1="378.25" y1="262.50" x2="378.25" y2="261.00"/>
<line x1="378.25" y1="13.90" x2="378.25" y2="15.40"/>
<line x1="395.00" y1="262.50" x2="395.00" y2="261.00"/>
<line x1="395.00" y1="13.90" x2="395.00" y2="15.40"/>
<line x1="411.75" y1="262.50" x2="411.75" y2="261.00"/>
<line x1="411.75" y1="13.90" x2="411.75" y2="15.40"/>
<line x1="428.50" y1="262.50" x2="428.50" y2="260.00"/>
<line x1="428.50" y1="13.90" x2="428.50" y2="16.40"/>
<line x1="26.52" y1="262.50" x2="29.02" y2="262.50"/>
<line x1="428.50" y1="262.50" x2="426.00" y2="262.50"/>
<line x1="26.52" y1="254.21" x2="28.02" y2="254.21"/>
<line x1="428.50" y1="254.21" x2="427.00" y2="254.21"/>
<line x1="26.52" y1="245.93" x2="28.02" y2="245.93"/>
<line x1="428.50" y1="245.93" x2="427.00" y2="245.93"/>
<line x1="26.52" y1="237.64" x2="28.02" y2="237.64"/>
<line x1="428.50" y1="237.64" x2="427.00" y2="237.64"/>
<line x1="26.52" y1="229.35" x2="29.02" y2="229.35"/>
<line x1="428.50" y1="229.35" x2="426.00" y2="229.35"/>
<line x1="26.52" y1="221.07" x2="28.02" y2="221.07"/>
<line x1="428.50" y1="221.07" x2="427.00" y2="221.07"/>
<line x1="26.52" y1="212.78" x2="28.02" y2="212.78"/>
<line x1="428.50" y1="212.78" x2="427.00" y2="212.78"/>
<line x1="26.52" y1="204.49" x2="28.02" y2="204.49"/>
<line x1="428.50" y1="204.49" x2="427.00" y2="204.49"/>
<line x1="26.52" y1="196.21" x2="29.02" y2="196.21"/>
<line x1="428.50" y1="196.21" x2="426.00" y2="196.21"/>
<line x1="26.52" y1="187.92" x2="28.02" y2="187.92"/>
<line x1="428.50" y1="187.92" x2="427.00" y2="187.92"/>
<line x1="26.52" y1="179.63" x2="28.02" y2="179.63"/>
<line x1="428.50" y1="179.63" x2="427.00" y2="179.63"/>
<line x1="26.52" y1="171.35" x2="28.02" y2="171.35"/>
<line x1="428.50" y1="171.35" x2="427.00" y2="171.35"/>
<line x1="26.52" y1="163.06" x2="29.02" y2="163.06"/>
<line x1="428.50" y1="163.06" x2="426.00" y2="163.06"/>
<line x1="26.52" y1="154.77" x2="28.02" y2="154.77"/>
<line x1="428.50" y1="154.77" x2="427.00" y2="154.77"/>
<line x1="26.52" y1="146.49" x2="28.02" y2="146.49"/>
<line x1="428.50" y1="146.49" x2="427.00" y2="146.49"/>
<line x1="26.52" y1="138.20" x2="28.02" y2="138.20"/>
<line x1="428.50" y1="138.20" x2="427.00" y2="138.20"/>
<line x1="26.52" y1="129.91" x2="29.02" y2="129.91"/>
<line x1="428.50" y1="129.91" x2="426.00" y2="129.91"/>
<line x1="26.52" y1="121.63" x2="28.02" y2="121.63"/>
<line x1="428.50" y1="121.63" x2="427.00" y2="121.63"/>
<line x1="26.52" y1="113.34" x2="28.02" y2="113.34"/>
<line x1="428.50" y1="113.34" x2="427.00" y2="113.34"/>
<line x1="26.52" y1="105.05" x2="28.02" y2="105.05"/>
<line x1="428.50" y1="105.05" x2="427.00" y2="105.05"/>
<line x1="26.52" y1="96.77" x2="29.02" y2="96.77"/>
<line x1="428.50" y1="96.77" x2="426.00" y2="96.77"/>
<line x1="26.52" y1="88.48" x2="28.02" y2="88.48"/>
<line x1="428.50" y1="88.48" x2="427.00" y2="88.48"/>
<line x1="26.52" y1="80.19" x2="28.02" y2="80.19"/>
<line x1="428.50" y1="80.19" x2="427.00" y2="80.19"/>
<line x1="26.52" y1="71.91" x2="28.02" y2="71.91"/>
<line x1="428.50" y1="71.91" x2="427.00" y2="71.91"/>
<line x1="26.52" y1="63.62" x2="29.02" y2="63.62"/>
<line x1="428.50" y1="63.62" x2="426.00" y2="63.62"/>
<line x1="26.52" y1="55.33" x2="28.02" y2="55.33"/>
<line x1="428.50" y1="55.33" x2="427.00" y2="55.33"/>
<line x1="26.52" y1="47.05" x2="28.02" y2="47.05"/>
<line x1="428.50" y1="47.05" x2="427.00" y2="47.05"/>
<line x1="26.52" y1="38.76" x2="28.02" y2="38.76"/>
<line x1="428.50" y1="38.76" x2="427.00" y2="38.76"/>
<line x1="26.52" y1="30.47" x2="29.02" y2="30.47"/>
<line x1="428.50" y1="30.47" x2="426.00" y2="30.47"/>
<line x1="26.52" y1="22.19" x2="28.02" y2="22.19"/>
<line x1="428.50" y1="22.19" x2="427.00" y2="22.19"/>
<line x1="26.52" y1="13.90" x2="28.02" y2="13.90"/>
<line x1="428.50" y1="13.90" x2="427.00" y2="13.90"/>
</g>
</g>
<text x="26.52" y="272.6" text-anchor="middle">0.8</text>
<text x="93.52" y="272.6" text-anchor="middle">1.0</text>
<text x="160.51" y="272.6" text-anchor="middle">1.2</text>
<text x="227.51" y="272.6" text-anchor="middle">1.4</text>
<text x="294.51" y="272.6" text-anchor="middle">1.6</text>
<text x="361.50" y="272.6" text-anchor="middle">1.8</text>
<text x="428.50" y="272.6" text-anchor="middle">2.0</text>
<text x="25.5" y="265.50" text-anchor="end">0</text>
<text x="25.5" y="232.35" text-anchor="end">2</text>
<text x="25.5" y="199.21" text-anchor="end">4</text>
<text x="25.5" y="166.06" text-anchor="end">6</text>
<text x="25.5" y="132.91" text-anchor="end">8</text>
<text x="25.5" y="99.77" text-anchor="end">10</text>
<text x="25.5" y="66.62" text-anchor="end">12</text>
<text x="25.5" y="33.47" text-anchor="end">14</text>
<line x1="235" y1="39.85" x2="256.2" y2="39.85" stroke="#0000ff" stroke-width="1.25" stroke-dasharray="1.15 0.85"/>
<text transform="translate(260.4,43.00) skewX(-10)" style="font-style:italic">l</text>
<text y="43.00"><tspan x="264.0" font-size="7" dy="1.5">1</tspan><tspan x="270.4" dy="-1.5">=</tspan><tspan x="279.5" letter-spacing="-0.06">2.00000</tspan></text>
<text transform="translate(321.7,43.00) skewX(-10)" style="font-style:italic">l</text>
<text y="43.00"><tspan x="324.8" font-size="7" dy="1.5">2</tspan><tspan x="331.7" dy="-1.5">=</tspan><tspan x="340.3">−</tspan><tspan x="347.1" letter-spacing="-0.17">4.82843</tspan></text>
<line x1="235" y1="55.90" x2="256.2" y2="55.90" stroke="#ff0000" stroke-width="1.25" stroke-dasharray="2.3 1.5"/>
<text transform="translate(260.4,58.90) skewX(-10)" style="font-style:italic">l</text>
<text y="58.90"><tspan x="264.0" font-size="7" dy="1.5">1</tspan><tspan x="270.4" dy="-1.5">=</tspan><tspan x="279.5" letter-spacing="-0.06">1.98900</tspan></text>
<text transform="translate(321.7,58.90) skewX(-10)" style="font-style:italic">l</text>
<text y="58.90"><tspan x="324.8" font-size="7" dy="1.5">2</tspan><tspan x="331.7" dy="-1.5">=</tspan><tspan x="340.3">−</tspan><tspan x="347.1" letter-spacing="-0.17">4.82843</tspan></text>
<line x1="235" y1="71.95" x2="256.2" y2="71.95" stroke="#ff8000" stroke-width="1.25" stroke-dasharray="4 2.5"/>
<text transform="translate(260.4,75.10) skewX(-10)" style="font-style:italic">l</text>
<text y="75.10"><tspan x="264.0" font-size="7" dy="1.5">1</tspan><tspan x="270.4" dy="-1.5">=</tspan><tspan x="279.5" letter-spacing="-0.06">2.00000</tspan></text>
<text transform="translate(321.7,75.10) skewX(-10)" style="font-style:italic">l</text>
<text y="75.10"><tspan x="324.8" font-size="7" dy="1.5">2</tspan><tspan x="331.7" dy="-1.5">=</tspan><tspan x="340.3">−</tspan><tspan x="347.1" letter-spacing="-0.17">2.50000</tspan></text>
<line x1="235" y1="87.90" x2="256.2" y2="87.90" stroke="#000000" stroke-width="1.25" stroke-dasharray="6.3 6.04"/>
<text transform="translate(260.4,90.75) skewX(-10)" style="font-style:italic">l</text>
<text y="90.75"><tspan x="264.0" font-size="7" dy="1.5">1</tspan><tspan x="270.4" dy="-1.5">=</tspan><tspan x="279.5" letter-spacing="-0.06">1.99000</tspan></text>
<text transform="translate(321.7,90.75) skewX(-10)" style="font-style:italic">l</text>
<text y="90.75"><tspan x="324.8" font-size="7" dy="1.5">2</tspan><tspan x="331.7" dy="-1.5">=</tspan><tspan x="340.3">−</tspan><tspan x="347.1" letter-spacing="-0.17">3.50000</tspan></text>
<text x="208.8" y="10.4" style="font-family:'Liberation Serif',serif;font-style:italic;font-size:14.5px">a</text>
<text x="219.2" y="10.4" style="font-size:12.1px">=</text>
<text x="230.6" y="10.4" style="font-size:11.45px;letter-spacing:-0.3px">1.0</text>
<text x="227.5" y="286.8" text-anchor="middle" style="font-size:10.5px">r</text>
<text transform="translate(8.3,138.3) rotate(-90)" text-anchor="middle"><tspan font-style="italic">E</tspan><tspan font-size="7.3" dy="1.6">cm</tspan></text>
</svg>
</body></html>
